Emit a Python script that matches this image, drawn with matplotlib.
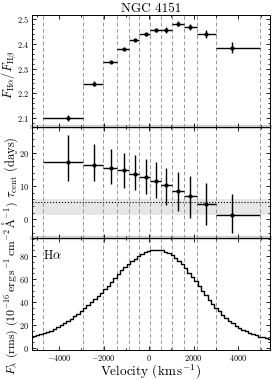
import numpy as np
import matplotlib
matplotlib.use("Agg")
import matplotlib.pyplot as plt
from matplotlib.ticker import MultipleLocator, AutoMinorLocator
from matplotlib.lines import Line2D

plt.rcParams["font.family"] = "serif"
plt.rcParams["font.serif"] = ["cmr10"]
plt.rcParams["mathtext.fontset"] = "cm"
plt.rcParams["axes.formatter.use_mathtext"] = True

# velocity bin edges (km/s)
BIN_EDGES = [-4730, -2920, -2030, -1400, -880, -430, 60, 560, 1040, 1560, 2160, 3020, 4960]

# point positions inside each bin (km/s)
VEL = [-3600, -2430, -1680, -1090, -600, -120, 330, 770, 1290, 1840, 2560, 3730]

# Halpha / Hbeta flux ratio
RATIO = [2.100, 2.239, 2.328, 2.380, 2.415, 2.438, 2.455, 2.456, 2.480, 2.467, 2.440, 2.385]
RATIO_ERR = [0.013, 0.011, 0.004, 0.004, 0.005, 0.006, 0.008, 0.012, 0.010, 0.012, 0.017, 0.022]

# continuum lag (days)
TAU = [17.2, 16.4, 15.4, 14.7, 13.6, 12.7, 11.6, 10.2, 8.6, 6.9, 4.7, 1.2]
TAU_UP = [8.2, 6.1, 5.8, 5.2, 5.6, 5.3, 5.5, 5.1, 5.7, 6.0, 6.3, 6.3]
TAU_LO = [5.8, 4.8, 4.7, 5.3, 4.9, 5.1, 5.3, 5.9, 6.2, 6.4, 6.3, 5.2]

TAU_MEAN = 5.1
TAU_BAND = (1.2, 6.0)

# rms Halpha profile, one value per 150 km/s pixel
SPEC_VEL = np.arange(-5250, 5401, 150)
SPEC_FLUX = [
    9.8, 10.4, 11.1, 12.0, 12.9, 14.0, 15.3, 16.8, 18.4, 20.0,
    21.8, 23.6, 25.6, 27.8, 30.0, 32.3, 34.8, 37.3, 39.9, 42.6,
    45.3, 48.2, 51.1, 54.2, 57.6, 61.3, 64.6, 67.6, 70.4, 73.0,
    75.5, 77.8, 79.8, 81.6, 83.2, 84.3,
    85.2, 85.7, 85.6, 85.1, 84.0, 82.6, 80.8, 78.6, 76.0, 73.2,
    69.6, 65.8, 62.0, 58.0, 53.9, 49.8, 45.9, 42.3, 38.8, 35.4,
    32.1, 29.0, 26.3, 23.9, 21.7, 19.7, 17.8, 16.1, 14.6, 13.3,
    12.1, 11.1, 10.2, 9.4, 8.7, 8.0,
]


def bin_xerr(vel, edges):
    lo = [v - edges[i] for i, v in enumerate(vel)]
    hi = [edges[i + 1] - v for i, v in enumerate(vel)]
    return [lo, hi]


def style_axis(ax):
    ax.set_facecolor("none")
    ax.tick_params(which="both", direction="in", top=True, right=True,
                   labelsize=6, width=0.6, pad=2)
    ax.tick_params(which="major", length=3)
    ax.tick_params(which="minor", length=1.5)
    for sp in ax.spines.values():
        sp.set_linewidth(0.7)
    for e in BIN_EDGES:
        ax.axvline(e, color="0.6", ls=(0, (4, 2.5)), lw=0.7, zorder=1)


fig, (ax1, ax2, ax3) = plt.subplots(3, 1, sharex=True, figsize=(2.74, 3.80), dpi=100)
fig.subplots_adjust(left=0.117, right=0.985, top=0.9605, bottom=0.079, hspace=0)

xerr = bin_xerr(VEL, BIN_EDGES)

# top: flux ratio
style_axis(ax1)
ax1.errorbar(VEL, RATIO, xerr=xerr, yerr=RATIO_ERR, fmt="o", ms=2, color="k",
             elinewidth=1.0, capsize=0, zorder=3)
ax1.set_ylim(2.066, 2.516)
ax1.yaxis.set_major_locator(MultipleLocator(0.1))
ax1.yaxis.set_minor_locator(AutoMinorLocator(5))
ax1.set_ylabel(r"$F_{\rm H\alpha}/F_{\rm H\beta}$", fontsize=9)
ax1.yaxis.set_label_coords(-0.06, 0.47)
ax1.set_title("NGC 4151", fontsize=9.5, pad=2)

# middle: lags
style_axis(ax2)
ax2.axhspan(TAU_BAND[0], TAU_BAND[1], color="0.9", lw=0, zorder=0.5)
ax2.axhline(TAU_MEAN, color="k", ls=":", lw=0.8, zorder=2)
ax2.errorbar(VEL, TAU, xerr=xerr, yerr=[TAU_LO, TAU_UP], fmt="o", ms=2, color="k",
             elinewidth=1.0, capsize=0, zorder=3)
ax2.set_ylim(-5.7, 27.8)
ax2.yaxis.set_major_locator(MultipleLocator(10))
ax2.yaxis.set_minor_locator(AutoMinorLocator(5))
ax2.set_ylabel(r"$\tau_{\rm cent}$ (days)", fontsize=9)
ax2.yaxis.set_label_coords(-0.05, 0.64)

# bottom: rms spectrum
style_axis(ax3)
ax3.step(SPEC_VEL, SPEC_FLUX, where="mid", color="k", lw=1.0, zorder=3)
ax3.set_ylim(-1.5, 95.5)
ax3.yaxis.set_major_locator(MultipleLocator(20))
ax3.yaxis.set_minor_locator(AutoMinorLocator(4))
ax3.set_ylabel(r"$F_\lambda$ (rms) $(10^{-16}\,{\rm erg\,s^{-1}\,cm^{-2}\,\AA^{-1}})$",
               fontsize=8.5)
ax3.yaxis.set_label_coords(-0.052, 0.555)
ax3.text(0.045, 0.85, r"H$\alpha$", transform=ax3.transAxes, fontsize=9, va="center")

ax3.set_xlim(-5200, 5400)
ax3.xaxis.set_major_locator(MultipleLocator(2000))
ax3.xaxis.set_minor_locator(MultipleLocator(1000))
ax3.set_xlabel(r"Velocity $({\rm km\,s^{-1}})$", fontsize=9.5, labelpad=0)

# light band at the panel joins
for ax in (ax2, ax3):
    pos = ax.get_position()
    fig.add_artist(Line2D([pos.x0, pos.x1], [pos.y1, pos.y1], transform=fig.transFigure,
                          color="0.8", lw=3, zorder=-1))

fig.savefig("out.png", dpi=100)
